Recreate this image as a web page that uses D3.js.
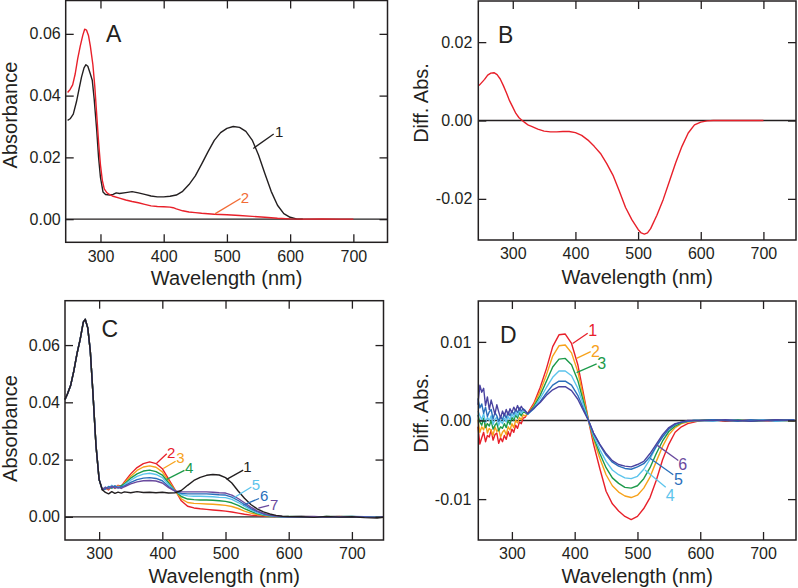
<!DOCTYPE html>
<html><head><meta charset="utf-8">
<script src="https://cdn.jsdelivr.net/npm/d3@7"></script>
<style>
body{margin:0;background:#fff}
svg text{font-family:"Liberation Sans",Arial,Helvetica,sans-serif;fill:#231f20}
</style>
</head><body>
<svg id="chart" width="798" height="588"></svg>
<script>
// ---------------- DATA ----------------
const xTickValues = [300, 400, 500, 600, 700];
const yTicksA = [0, 0.02, 0.04, 0.06];
const yTicksB = [-0.02, 0, 0.02];
const yTicksC = [0, 0.02, 0.04, 0.06];
const yTicksD = [-0.01, 0, 0.01];

// Panel A
const wlA1 = [248,252,257,262,266,270,274,277,280,284,287,290,294,297,300,304,308,315,320,325,330,340,350,360,370,380,390,400,410,420,430,440,450,460,470,480,490,500,510,520,530,540,550,560,570,580,590,600,610,620];
const absA1 = [0.032,0.0325,0.034,0.038,0.042,0.046,0.049,0.050,0.0495,0.047,0.045,0.039,0.029,0.020,0.0135,0.0088,0.0080,0.0078,0.0080,0.0085,0.0083,0.0086,0.0089,0.0085,0.0080,0.0075,0.0072,0.0072,0.0074,0.0078,0.0090,0.0112,0.0140,0.0178,0.0218,0.0255,0.0280,0.0294,0.0300,0.0297,0.0284,0.0256,0.0208,0.0148,0.0090,0.0045,0.0018,0.0006,0.0001,0.0000];
const wlA2 = [248,252,256,260,264,268,272,275,278,281,284,288,291,294,297,300,303,306,310,315,320,330,340,350,360,370,380,390,400,410,415,420,430,440,450,460,480,500,520,540,560,580,600,620,650,680,700];
const absA2 = [0.041,0.042,0.0435,0.047,0.052,0.056,0.0595,0.0615,0.0612,0.0595,0.056,0.050,0.043,0.034,0.025,0.0175,0.0125,0.0098,0.0086,0.0079,0.0074,0.0068,0.0062,0.0057,0.0053,0.0048,0.0043,0.0041,0.0040,0.0039,0.0037,0.0033,0.0027,0.0023,0.0021,0.0019,0.0016,0.0014,0.0012,0.0009,0.0006,0.0003,0.0001,0.0000,0.0001,0.0000,0.0000];

// Panel B
const wlB = [246,250,255,260,265,270,275,280,285,290,295,300,305,310,315,320,325,330,340,350,360,370,380,390,400,410,420,430,440,450,460,470,480,490,500,505,510,515,520,530,540,550,560,570,580,590,600,610,620,700];
const diffB = [0.0089,0.0096,0.0105,0.0116,0.0121,0.0122,0.0117,0.0106,0.0089,0.0070,0.0050,0.0034,0.0018,0.0007,0.0000,-0.0006,-0.0012,-0.0015,-0.0022,-0.0027,-0.0029,-0.0029,-0.0028,-0.0028,-0.0031,-0.0038,-0.0050,-0.0066,-0.0084,-0.0110,-0.0140,-0.0180,-0.0222,-0.0253,-0.0278,-0.0287,-0.0290,-0.0287,-0.0276,-0.0242,-0.0202,-0.0155,-0.0108,-0.0066,-0.0032,-0.0011,-0.0004,-0.0001,0.0000,0.0000];

// Panel C
const wlCuv = [246,250,255,260,265,270,275,278,282,286,290,295,300,305];
const absCuv = [0.041,0.043,0.046,0.051,0.057,0.062,0.068,0.069,0.066,0.058,0.044,0.025,0.013,0.0095];
const wlC = [310,315,320,325,330,335,340,350,360,370,380,390,400,410,420,430,440,450,460,470,480,490,500,510,520,530,540,550,560,570,580,590,600,620,640,660,680,700,720,740,750];
const absC1 = [0.0085,0.0080,0.0088,0.0082,0.0086,0.0083,0.0087,0.0084,0.0088,0.0085,0.0086,0.0084,0.0086,0.0083,0.0084,0.0092,0.0110,0.0127,0.0138,0.0145,0.0148,0.0146,0.0137,0.0118,0.0090,0.0065,0.0043,0.0028,0.0017,0.0010,0.0005,0.0002,0.0001,0.0000,-0.0002,0.0001,-0.0001,0.0000,-0.0003,-0.0004,-0.0002];
const absC2 = [0.0100,0.0094,0.0108,0.0101,0.0110,0.0106,0.0122,0.0150,0.0172,0.0186,0.0192,0.0186,0.0168,0.0132,0.0095,0.0056,0.0037,0.0031,0.0028,0.0026,0.0024,0.0022,0.0020,0.0017,0.0013,0.0009,0.0006,0.0004,0.0003,0.0002,0.0001,0.0000,0.0000,0.0001,-0.0001,0.0000,0.0001,-0.0001,0.0000,-0.0002,-0.0001];
const absC3 = [0.0102,0.0096,0.0106,0.0099,0.0108,0.0104,0.0118,0.0142,0.0162,0.0174,0.0178,0.0173,0.0157,0.0125,0.0092,0.0063,0.0050,0.0047,0.0046,0.0045,0.0044,0.0042,0.0040,0.0036,0.0029,0.0020,0.0013,0.0008,0.0005,0.0002,0.0001,0.0000,0.0000,0.0001,0.0000,-0.0001,0.0001,0.0000,-0.0001,-0.0002,0.0000];
const absC4 = [0.0098,0.0104,0.0100,0.0107,0.0103,0.0109,0.0115,0.0135,0.0150,0.0160,0.0163,0.0158,0.0146,0.0118,0.0091,0.0071,0.0062,0.0060,0.0059,0.0059,0.0058,0.0056,0.0054,0.0049,0.0040,0.0029,0.0019,0.0011,0.0006,0.0003,0.0001,0.0000,0.0001,0.0000,-0.0001,0.0001,0.0000,0.0001,-0.0001,-0.0001,0.0000];
const absC5 = [0.0104,0.0099,0.0110,0.0103,0.0106,0.0101,0.0112,0.0128,0.0141,0.0149,0.0152,0.0148,0.0137,0.0113,0.0090,0.0078,0.0073,0.0072,0.0072,0.0071,0.0070,0.0068,0.0067,0.0061,0.0050,0.0037,0.0024,0.0014,0.0008,0.0004,0.0001,0.0000,0.0000,0.0001,-0.0001,0.0000,0.0001,0.0000,-0.0001,-0.0001,0.0000];
const absC6 = [0.0097,0.0106,0.0101,0.0108,0.0100,0.0105,0.0108,0.0120,0.0130,0.0135,0.0137,0.0134,0.0126,0.0106,0.0090,0.0082,0.0080,0.0080,0.0080,0.0080,0.0079,0.0077,0.0076,0.0069,0.0057,0.0043,0.0029,0.0018,0.0010,0.0005,0.0002,0.0000,0.0000,0.0001,0.0000,-0.0001,0.0000,0.0001,0.0000,-0.0002,-0.0001];
const absC7 = [0.0103,0.0098,0.0107,0.0100,0.0104,0.0099,0.0105,0.0115,0.0122,0.0126,0.0127,0.0125,0.0118,0.0102,0.0090,0.0087,0.0087,0.0087,0.0087,0.0087,0.0086,0.0084,0.0083,0.0076,0.0064,0.0049,0.0034,0.0021,0.0012,0.0006,0.0003,0.0001,0.0000,0.0000,0.0001,-0.0001,0.0000,0.0000,-0.0001,-0.0002,0.0000];

// Panel D
const wlDuv = [246,249,252,255,258,261,264,267,270,273,276,279,282,285,288,291,294,297,300,303,306,309,312,315,318,321];
const wlD = [325,335,345,355,365,375,385,395,405,415,422,430,440,450,460,470,480,490,500,510,520,530,540,550,560,570,580,590,600,620,640,660,680,700,720,750];
const dUv1 = [-0.0008,-0.0030,-0.0022,-0.0015,-0.0027,-0.0019,-0.0021,-0.0012,-0.0025,-0.0018,-0.0016,-0.0029,-0.0022,-0.0027,-0.0019,-0.0024,-0.0014,-0.0020,-0.0011,-0.0015,-0.0006,-0.0010,-0.0002,-0.0004,0.0003,0.0004];
const dUv2 = [0.0001,-0.0015,-0.0008,-0.0012,-0.0003,-0.0016,-0.0010,-0.0013,-0.0019,-0.0008,-0.0014,-0.0011,-0.0021,-0.0015,-0.0012,-0.0018,-0.0008,-0.0012,-0.0004,-0.0009,0.0000,-0.0003,0.0004,0.0001,0.0007,0.0006];
const dUv3 = [0.0007,-0.0002,-0.0006,0.0003,-0.0009,-0.0004,-0.0007,0.0000,-0.0011,-0.0006,-0.0003,-0.0013,-0.0008,-0.0010,-0.0004,-0.0009,0.0000,-0.0005,0.0004,0.0000,0.0007,0.0003,0.0010,0.0006,0.0011,0.0010];
const dUv4 = [0.0012,0.0006,0.0001,0.0009,-0.0003,0.0004,0.0000,0.0006,-0.0005,0.0002,0.0004,-0.0006,0.0000,-0.0004,0.0003,-0.0002,0.0005,0.0001,0.0008,0.0004,0.0010,0.0006,0.0013,0.0009,0.0012,0.0012];
const dUv5 = [0.0028,0.0016,0.0021,0.0009,0.0017,0.0005,0.0011,0.0014,0.0002,0.0010,0.0006,-0.0001,0.0005,0.0001,0.0009,0.0003,0.0011,0.0006,0.0012,0.0008,0.0014,0.0010,0.0016,0.0012,0.0015,0.0013];
const dUv6 = [0.0020,0.0045,0.0036,0.0041,0.0019,0.0030,0.0014,0.0026,0.0017,0.0008,0.0020,0.0011,0.0003,0.0012,0.0006,0.0014,0.0007,0.0015,0.0010,0.0017,0.0012,0.0019,0.0013,0.0018,0.0014,0.0012];
const diffD1 = [0.0009,0.0022,0.0042,0.0066,0.0094,0.0109,0.0110,0.0098,0.0071,0.0030,0.0000,-0.0030,-0.0061,-0.0090,-0.0106,-0.0115,-0.0122,-0.0126,-0.0122,-0.0112,-0.0098,-0.0076,-0.0050,-0.0030,-0.0015,-0.0008,-0.0004,-0.0002,0.0000,0.0001,-0.0001,0.0000,0.0001,0.0000,-0.0001,0.0001];
const diffD2 = [0.0008,0.0020,0.0037,0.0058,0.0082,0.0095,0.0096,0.0086,0.0062,0.0026,0.0000,-0.0024,-0.0048,-0.0069,-0.0083,-0.0091,-0.0096,-0.0098,-0.0095,-0.0086,-0.0072,-0.0052,-0.0033,-0.0018,-0.0009,-0.0004,-0.0002,-0.0001,0.0000,0.0000,0.0001,-0.0001,0.0000,0.0001,0.0000,-0.0001];
const diffD3 = [0.0008,0.0018,0.0032,0.0050,0.0068,0.0078,0.0079,0.0071,0.0051,0.0021,0.0000,-0.0021,-0.0042,-0.0060,-0.0073,-0.0080,-0.0085,-0.0086,-0.0083,-0.0074,-0.0060,-0.0042,-0.0026,-0.0014,-0.0007,-0.0003,-0.0001,0.0000,0.0000,0.0001,0.0000,0.0001,-0.0001,0.0000,0.0001,0.0000];
const diffD4 = [0.0008,0.0016,0.0028,0.0042,0.0055,0.0063,0.0063,0.0057,0.0041,0.0017,0.0000,-0.0019,-0.0037,-0.0052,-0.0063,-0.0069,-0.0073,-0.0074,-0.0071,-0.0062,-0.0049,-0.0033,-0.0020,-0.0010,-0.0005,-0.0002,-0.0001,0.0000,0.0000,-0.0001,0.0001,0.0000,0.0000,0.0001,-0.0001,0.0000];
const diffD5 = [0.0008,0.0015,0.0024,0.0035,0.0045,0.0050,0.0050,0.0045,0.0032,0.0013,0.0000,-0.0016,-0.0031,-0.0044,-0.0053,-0.0058,-0.0061,-0.0062,-0.0059,-0.0055,-0.0046,-0.0033,-0.0021,-0.0011,-0.0005,-0.0002,-0.0001,0.0000,0.0000,0.0001,0.0000,-0.0001,0.0001,0.0000,0.0000,0.0001];
const diffD6 = [0.0009,0.0016,0.0023,0.0032,0.0039,0.0043,0.0043,0.0038,0.0027,0.0011,0.0000,-0.0016,-0.0030,-0.0042,-0.0051,-0.0056,-0.0058,-0.0059,-0.0056,-0.0052,-0.0042,-0.0030,-0.0018,-0.0009,-0.0004,-0.0002,0.0000,0.0000,0.0000,0.0000,0.0001,0.0000,-0.0001,0.0000,0.0001,0.0000];

// ---------------- COLOURS ----------------
const ink = "#231f20";
const cRed = "#e8202a", cOrange = "#f7a21b", cGreen = "#1c9a4a", cLight = "#5cc4ec",
      cBlue = "#2a6fbb", cPurple = "#6a4a9e", cIndigo = "#4a43a0", cLabel2A = "#f26b35";

// ---------------- DRAW ----------------
const svg = d3.select("#chart");
const FONT = '"Liberation Sans", Arial, Helvetica, sans-serif';

function check(a, b, name) { if (a.length !== b.length) throw new Error(name + " length mismatch " + a.length + " vs " + b.length); }

function drawPanel(p) {
  const x = d3.scaleLinear().domain(p.xDomain).range([p.left, p.right]);
  const y = d3.scaleLinear().domain(p.yDomain).range([p.bottom, p.top]);
  const g = svg.append("g");

  g.append("line").attr("x1", p.left).attr("x2", p.right)
    .attr("y1", y(0)).attr("y2", y(0)).attr("stroke", ink).attr("stroke-width", 1.3);

  const line = d3.line().x(d => x(d[0])).y(d => y(d[1]));
  p.series.forEach(s => {
    check(s.wl, s.v, s.name);
    g.append("path").datum(d3.zip(s.wl, s.v)).attr("d", line)
      .attr("fill", "none").attr("stroke", s.color).attr("stroke-width", 1.4)
      .attr("stroke-linejoin", "round");
  });

  const fmt = d => d.toFixed(2);
  const ax = [
    g.append("g").attr("transform", `translate(0,${p.bottom})`)
      .call(d3.axisBottom(x).tickValues(xTickValues).tickSize(-8).tickPadding(8)),
    g.append("g").attr("transform", `translate(0,${p.top})`)
      .call(d3.axisTop(x).tickValues(xTickValues).tickSize(-8).tickFormat("")),
    g.append("g").attr("transform", `translate(${p.left},0)`)
      .call(d3.axisLeft(y).tickValues(p.yTicks).tickSize(-8).tickPadding(p.yPad).tickFormat(fmt)),
    g.append("g").attr("transform", `translate(${p.right},0)`)
      .call(d3.axisRight(y).tickValues(p.yTicks).tickSize(-8).tickFormat(""))
  ];
  ax.forEach(a => {
    a.select(".domain").remove();
    a.attr("font-family", FONT).attr("font-size", 16);
    a.selectAll("line").attr("stroke", ink).attr("stroke-width", 1.3);
    a.selectAll("text").attr("fill", ink);
  });

  g.append("rect").attr("x", p.left).attr("y", p.top)
    .attr("width", p.right - p.left).attr("height", p.bottom - p.top)
    .attr("fill", "none").attr("stroke", ink).attr("stroke-width", 1.5);

  g.append("text").attr("x", (p.left + p.right) / 2).attr("y", p.xTitleY)
    .attr("text-anchor", "middle").attr("font-size", 20).text("Wavelength (nm)");
  g.append("text").attr("transform", `translate(${p.yTitleX},${p.yTitleY}) rotate(-90)`)
    .attr("text-anchor", "middle").attr("font-size", 20).text(p.yTitle);
  g.append("text").attr("x", p.letterX).attr("y", p.letterY)
    .attr("font-size", 23).text(p.letter);

  (p.labels || []).forEach(l => {
    g.append("line").attr("x1", x(l.from[0])).attr("y1", y(l.from[1]))
      .attr("x2", x(l.to[0])).attr("y2", y(l.to[1]))
      .attr("stroke", l.color).attr("stroke-width", 1.3);
    g.append("text").attr("x", x(l.at[0])).attr("y", y(l.at[1]))
      .attr("font-size", l.size || 16).style("fill", l.color).text(l.text);
  });
}

// Panel A
drawPanel({
  left: 65.7, right: 387.5, top: 0.5, bottom: 242.3,
  xDomain: [245, 754], yDomain: [-0.0075, 0.0708], yTicks: yTicksA, yPad: 5,
  xTitleY: 285, yTitle: "Absorbance", yTitleX: 16.5, yTitleY: 115,
  letter: "A", letterX: 106, letterY: 41.5,
  series: [
    {name: "A1", wl: wlA1, v: absA1, color: ink},
    {name: "A2", wl: wlA2, v: absA2, color: cRed}
  ],
  labels: [
    {text: "1", color: ink, at: [576, 0.0266], from: [541.7, 0.0229], to: [574, 0.0276], size: 15},
    {text: "2", color: cLabel2A, at: [522, 0.0053], from: [481, 0.0017], to: [521.5, 0.0067], size: 15}
  ]
});

// Panel B
drawPanel({
  left: 478.3, right: 796, top: 1, bottom: 240,
  xDomain: [245, 752], yDomain: [-0.0305, 0.0305], yTicks: yTicksB, yPad: 6,
  xTitleY: 284, yTitle: "Diff. Abs.", yTitleX: 428, yTitleY: 103,
  letter: "B", letterX: 498, letterY: 43,
  series: [{name: "B", wl: wlB, v: diffB, color: cRed}],
  labels: []
});

// Panel C
const wlCfull = wlCuv.concat(wlC);
drawPanel({
  left: 65, right: 383.5, top: 300.7, bottom: 540,
  xDomain: [246, 750], yDomain: [-0.0081, 0.0755], yTicks: yTicksC, yPad: 5,
  xTitleY: 583, yTitle: "Absorbance", yTitleX: 16.5, yTitleY: 428.5,
  letter: "C", letterX: 101.5, letterY: 336.5,
  series: [
    {name: "C2", wl: wlCfull, v: absCuv.concat(absC2), color: cRed},
    {name: "C3", wl: wlCfull, v: absCuv.concat(absC3), color: cOrange},
    {name: "C4", wl: wlCfull, v: absCuv.concat(absC4), color: cGreen},
    {name: "C5", wl: wlCfull, v: absCuv.concat(absC5), color: cLight},
    {name: "C6", wl: wlCfull, v: absCuv.concat(absC6), color: cBlue},
    {name: "C7", wl: wlCfull, v: absCuv.concat(absC7), color: cPurple},
    {name: "C1", wl: wlCfull, v: absCuv.concat(absC1), color: ink}
  ],
  labels: [
    {text: "1", color: ink, at: [528, 0.0158], from: [501.8, 0.0131], to: [528, 0.0163], size: 15},
    {text: "2", color: cRed, at: [407.5, 0.0206], from: [391, 0.0187], to: [407, 0.0220], size: 15},
    {text: "3", color: cOrange, at: [422, 0.0189], from: [401.5, 0.0169], to: [421, 0.0194], size: 15},
    {text: "4", color: cGreen, at: [436, 0.0152], from: [407, 0.0131], to: [435, 0.0162], size: 15},
    {text: "5", color: cLight, at: [541.5, 0.0094], from: [512, 0.0065], to: [541, 0.0104], size: 15},
    {text: "6", color: cBlue, at: [554.5, 0.0055], from: [528, 0.0041], to: [553, 0.0064], size: 15},
    {text: "7", color: cPurple, at: [570.5, 0.0024], from: [552, 0.0030], to: [569, 0.0040], size: 15}
  ]
});

// Panel D
const wlDfull = wlDuv.concat(wlD);
drawPanel({
  left: 478.3, right: 796, top: 301, bottom: 540,
  xDomain: [246.5, 752.5], yDomain: [-0.0152, 0.0152], yTicks: yTicksD, yPad: 7,
  xTitleY: 583, yTitle: "Diff. Abs.", yTitleX: 428, yTitleY: 413,
  letter: "D", letterX: 500, letterY: 342.5,
  series: [
    {name: "D1", wl: wlDfull, v: dUv1.concat(diffD1), color: cRed},
    {name: "D2", wl: wlDfull, v: dUv2.concat(diffD2), color: cOrange},
    {name: "D3", wl: wlDfull, v: dUv3.concat(diffD3), color: cGreen},
    {name: "D4", wl: wlDfull, v: dUv4.concat(diffD4), color: cLight},
    {name: "D5", wl: wlDfull, v: dUv5.concat(diffD5), color: cBlue},
    {name: "D6", wl: wlDfull, v: dUv6.concat(diffD6), color: cIndigo}
  ],
  labels: [
    {text: "1", color: cRed, at: [421.7, 0.01075], from: [396.8, 0.0098], to: [420.7, 0.0111]},
    {text: "2", color: cOrange, at: [426, 0.0081], from: [403, 0.0079], to: [425.5, 0.00875]},
    {text: "3", color: cGreen, at: [436, 0.0066], from: [403, 0.0061], to: [435, 0.0072]},
    {text: "6", color: cPurple, at: [565, -0.0063], from: [530.6, -0.0031], to: [565, -0.0051]},
    {text: "5", color: cBlue, at: [558, -0.0082], from: [520, -0.0048], to: [557, -0.0069]},
    {text: "4", color: cLight, at: [545, -0.0102], from: [512, -0.0063], to: [545, -0.0085]}
  ]
});
</script>
</body></html>
